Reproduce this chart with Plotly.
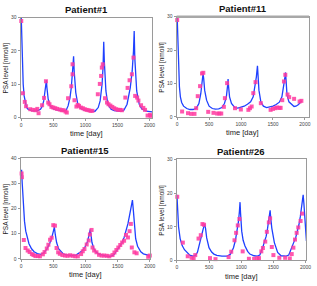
import plotly.graph_objects as go

# ---------------- Patient#1 ----------------
p1_line_t = [0,10,20,30,45,60,80,100,130,160,200,250,300,330,350,370,385,392,400,420,450,500,550,600,650,700,730,760,780,800,810,816,825,850,880,920,970,1050,1150,1200,1230,1260,1275,1286,1295,1320,1350,1400,1450,1550,1600,1650,1700,1730,1750,1761,1770,1800,1840,1880,1950,2000,2040]
p1_line_v = [30,22,15,10,6.5,4.5,3.2,2.6,2.3,2.1,2.0,2.0,2.5,3.5,5,7.5,10.5,11.2,9,5.5,3.5,2.6,2.3,2.1,2.0,2.2,3.5,6,9,14,16.5,18.4,14,7.5,4.2,2.8,2.3,2.0,1.9,3,5,10,15,22.8,17,8,4,2.5,2.1,1.9,2.2,4,9,14,20,26,18,8,4,2.6,1.9,1.7,1.7]
p1_pt_t = [0,25,55,75,140,180,220,250,270,325,355,385,420,440,470,500,530,560,600,630,660,690,710,730,780,800,800,830,860,880,900,930,960,990,1020,1050,1080,1110,1194,1225,1245,1256,1271,1306,1337,1360,1390,1420,1450,1480,1510,1540,1570,1623,1658,1689,1725,1750,1776,1807,1827,1868,1904,1930,1970,2006,2020]
p1_pt_v = [29,7.3,4.7,3.4,2.5,2.3,2.2,2.6,1.3,3.7,5.9,10.9,4.5,4,3.2,3,2.8,2.6,2.4,2.2,2.2,1.8,1.5,5.8,9.4,13,16,5.2,3.3,3.8,3.5,3,2.8,2.5,2.3,2.2,2,2,7,10.1,12.5,15,16,5.8,4.5,4,3.6,3.2,2.8,2.5,2.3,2.3,2.2,6,8.9,11.2,13,18,6.5,6,5.1,3.7,2.9,2.3,0.6,0.8,0.5]

# ---------------- Patient#11 ----------------
p2_line_t = [0,10,20,35,50,70,100,150,200,250,300,340,370,390,405,415,430,460,500,550,600,650,700,740,770,790,797,805,820,850,900,950,1000,1050,1100,1150,1190,1220,1240,1257,1265,1280,1310,1350,1400,1450,1500,1550,1600,1640,1670,1685,1697,1705,1720,1750,1800,1830,1860,1900,1950]
p2_line_v = [30,22,15,9,6,4.3,3.2,2.5,2.2,2.2,2.6,4,7,10.5,13,11.5,8,5,3.2,2.5,2.3,2.4,2.8,4,6,9.5,11.3,9,6,4,2.8,2.6,2.8,3.2,3.8,4.5,6,9,12,15.3,12,8,4.5,3.2,2.8,2.9,3.2,3.7,4.4,6,9,11.5,13.3,10,6.5,4.5,3.5,3.1,3.2,3.7,4.8]
p2_pt_t = [0,77,169,220,271,297,322,358,389,409,486,568,625,660,690,731,747,782,905,997,1115,1140,1166,1192,1227,1310,1463,1500,1537,1564,1600,1620,1645,1672,1693,1728,1754,1831,1917,1945]
p2_pt_v = [29,1.6,1.1,0.9,0.9,2.6,6.2,9.2,13,13.2,1.5,1.2,1,1,1,3,5.6,10.1,2.6,2.2,2.1,2.6,3.1,7.1,10.4,4.1,2.1,2.4,2.6,2.8,2.7,2.7,5,10.6,12.6,6.7,5.9,5.4,4.6,4.8]

# ---------------- Patient#15 ----------------
p3_line_t = [0,5,15,30,50,70,92,120,160,200,250,300,350,400,440,470,495,515,530,550,580,620,650,700,750,800,850,900,950,990,1030,1055,1073,1085,1100,1130,1160,1200,1250,1300,1350,1400,1440,1480,1520,1560,1600,1630,1660,1690,1715,1730,1745,1760,1780,1810,1830,1860,1900,1950,2000]
p3_line_v = [33,35.5,30,22,15,11,8.5,6,4,2.8,2.1,1.8,2.3,4,6,8,10.5,12.6,9.5,6.5,4,2.6,2,1.6,1.4,1.3,1.5,2.2,3.2,4.6,6.8,9.5,11.7,9.5,6.5,4,2.8,2,1.5,1.2,1.0,1.1,1.6,3,4.3,6,8.5,11,14,18,21.5,23.4,19,13,8,5,4,2.8,2,1.5,1.3]
p3_pt_t = [5,10,40,66,100,130,165,190,220,260,290,336,362,397,422,448,473,498,524,549,574,600,640,680,720,760,800,840,880,931,957,983,1018,1049,1068,1094,1109,1134,1170,1210,1250,1290,1330,1370,1420,1450,1480,1510,1540,1570,1600,1630,1660,1685,1705,1720,1760,1795,1975,2000]
p3_pt_v = [34,32.5,7.5,4.3,3.3,2.7,1.9,1.5,1.1,1.1,1.0,1.8,2.7,4.1,5.6,7.6,8.4,13.4,13.2,4.3,2.6,2,1.5,1.3,1.2,1.4,1.2,1.0,1.0,1.9,3,3.9,5.7,7.3,9.7,11.5,4.5,3.3,2.6,1.6,1.3,1.3,1.2,1.0,1.5,2.5,3.5,4.5,5.5,6.5,7.2,9.5,8.5,11,13.9,4.5,2.6,2.2,0.8,1.3]

# ---------------- Patient#26 ----------------
p4_line_t = [0,10,25,50,80,117,160,200,250,290,320,350,371,395,412,432,445,463,499,540,575,620,700,780,830,880,910,931,957,972,982,990,1008,1030,1059,1100,1135,1200,1250,1290,1320,1338,1360,1389,1410,1425,1440,1450,1460,1476,1516,1567,1620,1700,1740,1771,1810,1847,1870,1898,1920,1939,1955,1964,1975,1990,2015]
p4_line_v = [19.5,15,10,6.5,4.5,3.2,2.2,1.6,1.3,1.5,2.5,4.5,6.2,8.3,9.6,10.8,9.5,6.7,3.8,2.5,1.9,1.5,1.3,1.3,1.8,3.8,6,8.2,11.5,14.5,17.3,14,8.7,6,4.3,2.7,1.9,1.4,1.3,1.6,2.8,4,5.5,7.2,9.5,11.5,13.5,14.9,12.5,9.6,5.3,2.4,1.4,1.3,1.6,3.4,5,6.7,8.2,10.6,13,15.4,18,19.5,17,13.5,5.8]
p4_pt_t = [5,92,168,229,260,285,336,371,397,422,514,600,804,845,896,921,947,972,1023,1120,1201,1252,1277,1313,1338,1374,1399,1430,1450,1476,1501,1593,1684,1756,1786,1812,1837,1863,1888,1924,1949,2061]
p4_pt_v = [18.9,5.3,1.25,0.8,0.5,1.6,6.5,7.5,10.8,10.6,0.7,0.4,1.0,2.6,6,8.2,10.4,12.3,2.7,0.5,0.5,0.7,0.7,2.7,3.7,5.6,8.5,11.3,12.5,4.0,1.6,0.8,0.8,0.6,1.9,3.8,6.2,8.2,9.8,11.7,13.9,0.8]

titles = ["Patient#1", "Patient#11", "Patient#15", "Patient#26"]
y_tickvals = [[0,10,20,30],[0,10,20,30],[0,10,20,30,40],[0,10,20,30]]
x_tickvals = [0,500,1000,1500,2000]

W, H = 317, 286
# plot area pixel boxes in the screenshot (left, right, top, bottom)
boxes = [(20,154,15,117),(179,314,14,116.3),(20,152,158.7,261.3),(179,311,159.7,263)]
xranges = [[-10,2040],[-9,2065],[-10,2005],[-5,2010]]
yranges = [[0,30],[0,30],[0,40],[0,30]]

LINE = "#1f40ff"
MARK = "#ff3aa0"
FONT = "Liberation Sans"

def px(x):
    return x / W

def py(y):
    return 1 - y / H

series = [
    (p1_line_t, p1_line_v, p1_pt_t, p1_pt_v),
    (p2_line_t, p2_line_v, p2_pt_t, p2_pt_v),
    (p3_line_t, p3_line_v, p3_pt_t, p3_pt_v),
    (p4_line_t, p4_line_v, p4_pt_t, p4_pt_v),
]

fig = go.Figure()
layout = dict(width=W, height=H, margin=dict(l=0, r=0, t=0, b=0),
              paper_bgcolor="white", plot_bgcolor="white", showlegend=False,
              font=dict(family=FONT, color="#222"))
annotations = []
shapes = []
for i, (lt, lv, pt, pv) in enumerate(series):
    n = "" if i == 0 else str(i + 1)
    xa, ya = "x" + n, "y" + n
    fig.add_trace(go.Scatter(x=lt, y=lv, mode="lines", line=dict(color=LINE, width=1.3),
                             xaxis=xa, yaxis=ya, hoverinfo="skip"))
    fig.add_trace(go.Scatter(x=pt, y=pv, mode="markers", cliponaxis=False,
                             marker=dict(symbol="square", size=4, color=MARK, opacity=0.85,
                                         line=dict(width=0)),
                             xaxis=xa, yaxis=ya))
    l, r, t, b = boxes[i]
    dx = [px(l), px(r)]
    dy = [py(b), py(t)]
    axstyle = dict(showline=True, linecolor="#9a9a9a", linewidth=1, mirror=True,
                   showgrid=False, zeroline=False, ticks="outside", ticklen=2,
                   tickcolor="#9a9a9a", tickfont=dict(size=5, color="#444", family=FONT))
    layout["xaxis" + n] = dict(domain=dx, range=xranges[i], tickvals=x_tickvals,
                               anchor=ya, **axstyle)
    layout["yaxis" + n] = dict(domain=dy, range=yranges[i], tickvals=y_tickvals[i],
                               anchor=xa, **axstyle)
    cx = px((l + r) / 2)
    annotations.append(dict(text="<b>" + titles[i] + "</b>", x=cx, y=py(t - 8),
                            xref="paper", yref="paper", showarrow=False,
                            xanchor="center", yanchor="middle",
                            font=dict(size=9.5, family=FONT, color="#111")))
    annotations.append(dict(text="time [day]", x=cx, y=py(b + 16),
                            xref="paper", yref="paper", showarrow=False,
                            xanchor="center", yanchor="middle",
                            font=dict(size=7.5, family=FONT, color="#222")))
    annotations.append(dict(text="PSA level [nmol/l]", x=px(l - 15), y=py((t + b) / 2),
                            xref="paper", yref="paper", showarrow=False, textangle=-90,
                            xanchor="center", yanchor="middle",
                            font=dict(size=6.5, family=FONT, color="#222")))

# thicker top border on Patient#11 panel
l, r, t, b = boxes[1]
shapes.append(dict(type="line", xref="paper", yref="paper", x0=px(l), x1=px(r),
                   y0=py(t), y1=py(t), line=dict(color="#a8a8a8", width=2.5)))

layout["annotations"] = annotations
layout["shapes"] = shapes
fig.update_layout(**layout)
fig.write_html("out.html", config={"displayModeBar": False},
               post_script="document.body.style.margin='0';document.body.style.overflow='hidden';")
